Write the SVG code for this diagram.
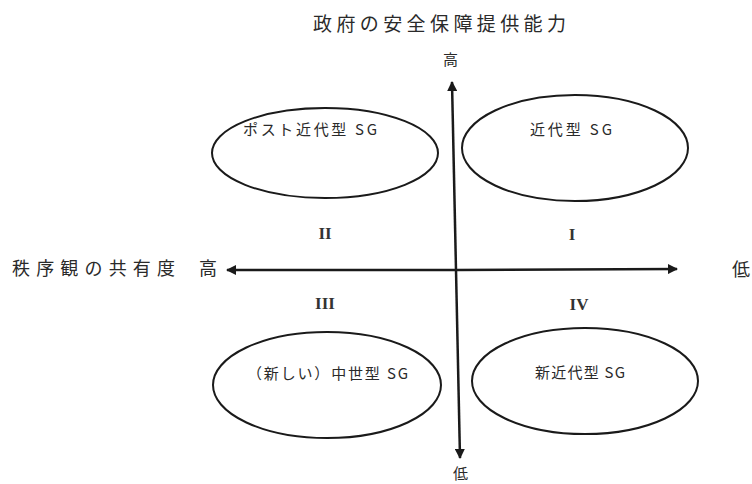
<svg xmlns="http://www.w3.org/2000/svg" width="752" height="484" viewBox="0 0 752 484">
<style>
.jp{font-family:"Noto Sans CJK JP","Noto Sans CJK SC",sans-serif;fill:#2a2a2a}
.lbl{font-size:15px}
.ax{font-size:18px}
.rn{font-family:"Liberation Serif",serif;font-size:17px;font-weight:bold;fill:#333;text-anchor:middle}
.ell{fill:none;stroke:#1a1a1a;stroke-width:2}
.axis{stroke:#1a1a1a;stroke-width:2.5;fill:none}
</style>
<defs>
<marker id="ah" viewBox="0 0 10 10" refX="9" refY="5" markerWidth="4.4" markerHeight="4" orient="auto" markerUnits="strokeWidth">
<path d="M0,0 L10,5 L0,10 z" fill="#1a1a1a"/>
</marker>
</defs>
<rect width="752" height="484" fill="#fff"/>
<g id="connectors">
<line class="axis" x1="456" y1="270" x2="452" y2="82" marker-end="url(#ah)"/>
<line class="axis" x1="456" y1="270" x2="460" y2="458" marker-end="url(#ah)"/>
<line class="axis" x1="456" y1="270" x2="227" y2="270" marker-end="url(#ah)"/>
<line class="axis" x1="456" y1="270" x2="677" y2="269" marker-end="url(#ah)"/>
</g>
<g id="axis-labels">
<text class="jp ax" x="313" y="31" textLength="253" lengthAdjust="spacing" style="font-size:19px">政府の安全保障提供能力</text>
<text class="jp" x="443" y="65" style="font-size:15px">高</text>
<text class="jp" x="453" y="479" style="font-size:15px">低</text>
<text class="jp ax" x="12" y="275" textLength="163" lengthAdjust="spacing">秩序観の共有度</text>
<text class="jp ax" x="199" y="275">高</text>
<text class="jp ax" x="732" y="276">低</text>
</g>
<g id="quadrant-numbers">
<text class="rn" x="325" y="239">II</text>
<text class="rn" x="325" y="309">III</text>
<text class="rn" x="572" y="240">I</text>
<text class="rn" x="579" y="310">IV</text>
</g>
<g id="post-modern-sg">
<ellipse class="ell" cx="325" cy="153" rx="113" ry="45"/>
<text class="jp lbl" x="243" y="135" textLength="134" lengthAdjust="spacing">ポスト近代型 SG</text>
</g>
<g id="modern-sg">
<ellipse class="ell" cx="575" cy="148" rx="113" ry="53"/>
<text class="jp lbl" x="530" y="135" textLength="82" lengthAdjust="spacing">近代型 SG</text>
</g>
<g id="neo-medieval-sg">
<ellipse class="ell" cx="327" cy="385" rx="114" ry="53"/>
<text class="jp lbl" x="247" y="379" textLength="161" lengthAdjust="spacing">（新しい）中世型 SG</text>
</g>
<g id="neo-modern-sg">
<ellipse class="ell" cx="585" cy="381" rx="113" ry="53"/>
<text class="jp lbl" x="535" y="378" textLength="90" lengthAdjust="spacing">新近代型 SG</text>
</g>
</svg>
